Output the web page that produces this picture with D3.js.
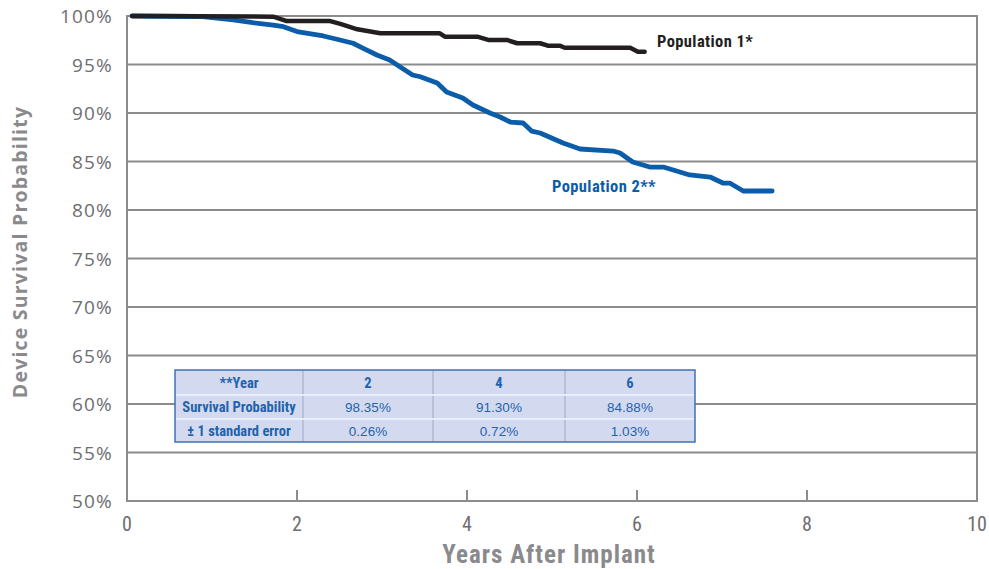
<!DOCTYPE html>
<html>
<head>
<meta charset="utf-8">
<script src="https://cdn.jsdelivr.net/npm/d3@7"></script>
<style>
  html, body { margin: 0; padding: 0; background: #fff; }
  svg { display: block; }
  .narrow { font-family: "Liberation Sans Narrow", "Arial Narrow", "Roboto Condensed", "DejaVu Sans Condensed", sans-serif; font-stretch: condensed; }
</style>
</head>
<body>
<svg id="chart" width="989" height="569"></svg>
<script>
// ---- Data ----
const pop1Years    = [0.06, 1.72, 1.88, 2.39, 2.51, 2.71, 2.98, 3.68, 3.74, 4.12, 4.25, 4.47, 4.59, 4.86, 4.95, 5.09, 5.15, 5.92, 6.01, 6.09];
const pop1Survival = [100, 99.93, 99.48, 99.48, 99.18, 98.63, 98.22, 98.22, 97.87, 97.87, 97.53, 97.53, 97.19, 97.19, 96.94, 96.94, 96.73, 96.73, 96.32, 96.32];

const pop2Years    = [0.06, 0.86, 1.25, 1.48, 1.72, 1.84, 2.0, 2.31, 2.47, 2.66, 2.78, 2.94, 3.09, 3.21, 3.36, 3.45, 3.65, 3.76, 3.95, 4.07, 4.27, 4.39, 4.51, 4.66, 4.76, 4.86, 5.13, 5.33, 5.72, 5.8, 5.95, 6.15, 6.31, 6.62, 6.86, 7.01, 7.09, 7.25, 7.59];
const pop2Survival = [100, 99.95, 99.59, 99.31, 99.07, 98.9, 98.4, 97.94, 97.6, 97.19, 96.67, 95.98, 95.46, 94.77, 93.92, 93.74, 93.09, 92.16, 91.55, 90.82, 90.0, 89.59, 89.07, 88.97, 88.14, 87.94, 86.91, 86.29, 86.08, 85.88, 84.95, 84.43, 84.43, 83.61, 83.4, 82.78, 82.78, 81.96, 81.96];

const xTicks = [0, 2, 4, 6, 8, 10];
const yTicks = [50, 55, 60, 65, 70, 75, 80, 85, 90, 95, 100];

const seriesLabels = ["Population 1*", "Population 2**"];
const tableHeader = ["**Year", "2", "4", "6"];
const tableRowLabels = ["Survival Probability", "\u00B1 1 standard error"];
const tableSurvival = ["98.35%", "91.30%", "84.88%"];
const tableStdErr = ["0.26%", "0.72%", "1.03%"];

// ---- Layout ----
const svg = d3.select("#chart");
const x = d3.scaleLinear().domain([0, 10]).range([127, 977]);
const y = d3.scaleLinear().domain([50, 100]).range([501, 16]);

const gridColor = "#8c8c8c";
const textGray = "#6d6e71";

// gridlines
svg.append("g").selectAll("line").data(yTicks).join("line")
  .attr("x1", x(0)).attr("x2", x(10))
  .attr("y1", d => y(d)).attr("y2", d => y(d))
  .attr("stroke", gridColor).attr("stroke-width", 2);

// frame
svg.append("rect").attr("x", x(0)).attr("y", y(100))
  .attr("width", x(10) - x(0)).attr("height", y(50) - y(100))
  .attr("fill", "none").attr("stroke", gridColor).attr("stroke-width", 2);

// x ticks (upward)
svg.append("g").selectAll("line").data(xTicks.slice(1, -1)).join("line")
  .attr("x1", d => x(d)).attr("x2", d => x(d))
  .attr("y1", y(50)).attr("y2", y(50) - 11)
  .attr("stroke", gridColor).attr("stroke-width", 2);

// x tick labels
svg.append("g").selectAll("text").data(xTicks).join("text")
  .attr("class", "narrow")
  .attr("x", d => x(d)).attr("y", 531)
  .attr("text-anchor", "middle")
  .attr("font-size", 20).attr("fill", textGray)
  .text(d => d);

// y tick labels
svg.append("g").selectAll("text").data(yTicks).join("text")
  .attr("x", 113).attr("y", d => y(d) + 7)
  .attr("text-anchor", "end")
  .attr("font-family", "'Open Sans', sans-serif")
  .attr("font-size", 19).attr("letter-spacing", 1.2).attr("fill", textGray)
  .text(d => d + "%");

// axis titles
svg.append("text").attr("class", "narrow")
  .attr("x", 549).attr("y", 563)
  .attr("text-anchor", "middle").attr("font-weight", "bold")
  .attr("font-size", 25).attr("letter-spacing", 1).attr("fill", "#8a8a8d")
  .text("Years After Implant");

svg.append("text")
  .attr("transform", "translate(27,252) rotate(-90)")
  .attr("text-anchor", "middle").attr("font-weight", "bold")
  .attr("font-family", "'Open Sans', sans-serif")
  .attr("font-size", 19.5).attr("letter-spacing", 1.2).attr("fill", "#8a8a8d")
  .text("Device Survival Probability");

// lines
const line = d3.line().x(d => x(d[0])).y(d => y(d[1]));
const p1 = pop1Years.map((t, i) => [t, pop1Survival[i]]);
const p2 = pop2Years.map((t, i) => [t, pop2Survival[i]]);

svg.append("path").datum(p2).attr("d", line)
  .attr("fill", "none").attr("stroke", "#0b5ca9").attr("stroke-width", 4.8)
  .attr("stroke-linejoin", "round").attr("stroke-linecap", "round");
svg.append("path").datum(p1).attr("d", line)
  .attr("fill", "none").attr("stroke", "#231f20").attr("stroke-width", 4.5)
  .attr("stroke-linejoin", "round").attr("stroke-linecap", "round");

// series labels
svg.append("text").attr("class", "narrow")
  .attr("x", 657).attr("y", 47).attr("font-weight", "bold")
  .attr("font-size", 16.5).attr("letter-spacing", 0.4)
  .attr("fill", "#231f20").text(seriesLabels[0]);
svg.append("text").attr("class", "narrow")
  .attr("x", 552).attr("y", 192).attr("font-weight", "bold")
  .attr("font-size", 16.5).attr("letter-spacing", 0.4)
  .attr("fill", "#0b5ca9").text(seriesLabels[1]);

// table
const colX = [175, 303, 433, 565, 695];
const rowY = [370, 395, 419, 442];
const tblBlue = "#1f63ad";
const tg = svg.append("g");
tg.append("rect").attr("x", colX[0]).attr("y", rowY[0])
  .attr("width", colX[4] - colX[0]).attr("height", rowY[3] - rowY[0])
  .attr("fill", "#d3daef");
// inner lines
tg.selectAll("line.v").data(colX.slice(1, -1)).join("line").attr("class", "v")
  .attr("x1", d => d).attr("x2", d => d).attr("y1", rowY[0]).attr("y2", rowY[3])
  .attr("stroke", "#aeb8d6").attr("stroke-width", 1.5);
tg.selectAll("line.h").data(rowY.slice(1, -1)).join("line").attr("class", "h")
  .attr("x1", colX[0]).attr("x2", colX[4]).attr("y1", d => d).attr("y2", d => d)
  .attr("stroke", "#f2f4fb").attr("stroke-width", 1.5);
tg.append("rect").attr("x", colX[0]).attr("y", rowY[0])
  .attr("width", colX[4] - colX[0]).attr("height", rowY[3] - rowY[0])
  .attr("fill", "none").attr("stroke", "#3d72b4").attr("stroke-width", 1.5);

const cx = i => (colX[i] + colX[i + 1]) / 2;
const cy = r => (rowY[r] + rowY[r + 1]) / 2 + 5;
// header row
tableHeader.forEach((h, i) => {
  tg.append("text").attr("class", "narrow")
    .attr("x", cx(i)).attr("y", cy(0)).attr("text-anchor", "middle")
    .attr("font-weight", "bold").attr("font-size", 14.5).attr("fill", tblBlue).text(h);
});
tableRowLabels.forEach((h, r) => {
  tg.append("text").attr("class", "narrow")
    .attr("x", cx(0)).attr("y", cy(r + 1)).attr("text-anchor", "middle")
    .attr("font-weight", "bold").attr("font-size", 14.5).attr("fill", tblBlue).text(h);
});
[tableSurvival, tableStdErr].forEach((row, r) => {
  row.forEach((v, i) => {
    tg.append("text")
      .attr("x", cx(i + 1)).attr("y", cy(r + 1)).attr("text-anchor", "middle")
      .attr("font-family", "'Liberation Sans', Arial, sans-serif")
      .attr("font-size", 13.5).attr("fill", tblBlue).text(v);
  });
});
</script>
</body>
</html>
